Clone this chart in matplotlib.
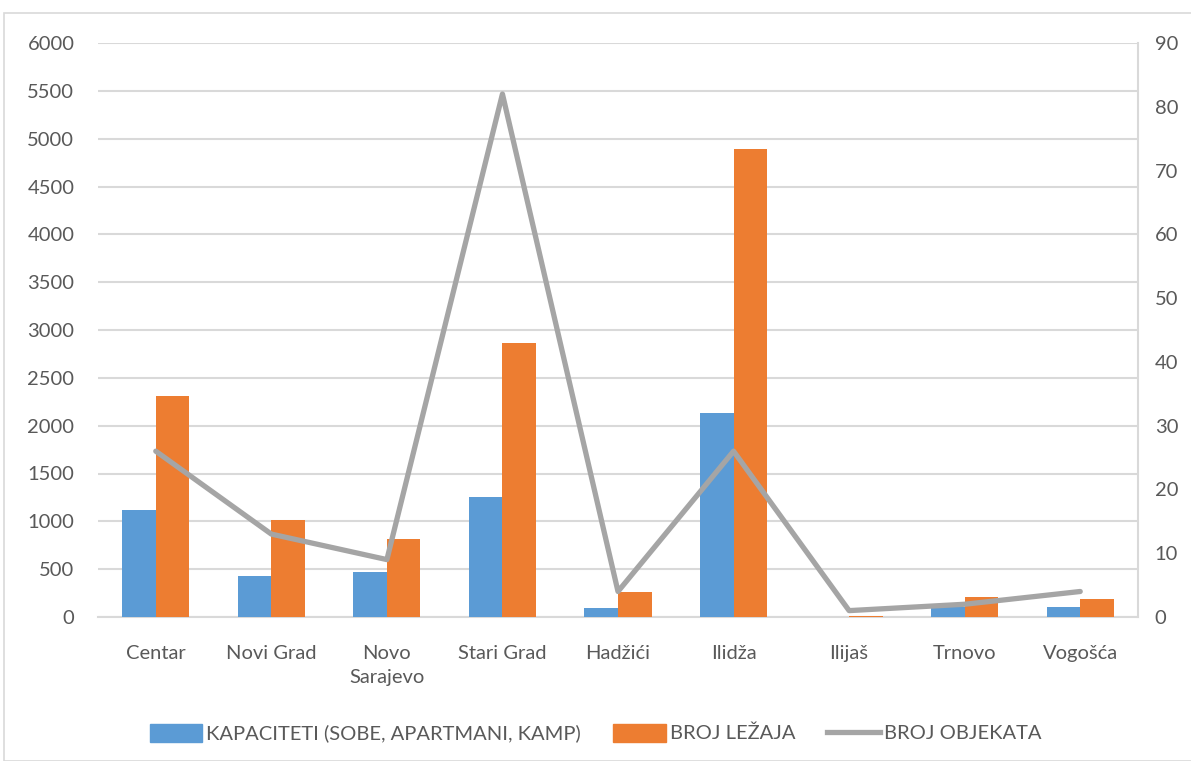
import matplotlib.pyplot as plt
import matplotlib.patches as mpatches
from matplotlib.lines import Line2D
import numpy as np

plt.rcParams['font.family'] = ['Lato', 'DejaVu Sans']

# data
categories = ["Centar", "Novi Grad", "Novo\nSarajevo", "Stari Grad", "Hadžići",
              "Ilidža", "Ilijaš", "Trnovo", "Vogošća"]
kapaciteti = [1120, 430, 473, 1257, 97, 2132, 0, 105, 105]
broj_lezaja = [2310, 1014, 815, 2867, 261, 4892, 10, 212, 191]
broj_objekata = [26, 13, 9, 82, 4, 26, 1, 2, 4]

BLUE = "#5B9BD5"
ORANGE = "#ED7D31"
GRAY = "#A5A5A5"
TXT = "#595959"
GRID = "#D9D9D9"
FS = 14.5

fig = plt.figure(figsize=(11.91, 7.61), dpi=100)
# outer chart border
fig.patches.append(mpatches.Rectangle((4 / 1191, 0), 1, 1 - 13 / 761, transform=fig.transFigure,
                                      fill=False, edgecolor=GRID, linewidth=1.2))

ax = fig.add_axes([98 / 1191, 1 - 617 / 761, (1138 - 98) / 1191, (617 - 43) / 761])
x = np.arange(len(categories))
w = 0.29
ax.bar(x - w / 2, kapaciteti, w, color=BLUE, zorder=3)
ax.bar(x + w / 2, broj_lezaja, w, color=ORANGE, zorder=3)
ax.set_xlim(-0.5, len(categories) - 0.5)
ax.set_ylim(0, 6000)
ax.set_yticks(np.arange(0, 6001, 500))
ax.yaxis.grid(True, color=GRID, linewidth=1.5, zorder=0)
ax.set_xticks(x)
ax.set_xticklabels(categories, fontsize=FS, color=TXT, linespacing=1.55)
ax.tick_params(axis="both", length=0, labelsize=FS, colors=TXT)
ax.tick_params(axis="x", pad=20)
ax.tick_params(axis="y", pad=17)
for s in ["top", "left", "right"]:
    ax.spines[s].set_visible(False)
ax.spines["bottom"].set_color(GRID)
ax.spines["bottom"].set_linewidth(1.5)

ax2 = ax.twinx()
ax2.plot(x, broj_objekata, color=GRAY, linewidth=3.8, zorder=4, solid_capstyle="round")
ax2.set_ylim(0, 90)
ax2.set_yticks(np.arange(0, 91, 10))
ax2.tick_params(axis="y", length=0, labelsize=FS, colors=TXT, pad=12)
for s in ["top", "left", "bottom"]:
    ax2.spines[s].set_visible(False)
ax2.spines["right"].set_color(GRID)
ax2.spines["right"].set_linewidth(1.5)

handles = [mpatches.Patch(color=BLUE, label="KAPACITETI (SOBE, APARTMANI, KAMP)"),
           mpatches.Patch(color=ORANGE, label="BROJ LEŽAJA"),
           Line2D([0], [0], color=GRAY, linewidth=3.8, label="BROJ OBJEKATA")]
fig.legend(handles=handles, loc="center", bbox_to_anchor=(0.5, 1 - 733 / 761), ncol=3,
           frameon=False, fontsize=FS, labelcolor=TXT, handlelength=2.6, handleheight=1.0,
           handletextpad=0.2, columnspacing=1.6)

fig.savefig("out.png", dpi=100)
